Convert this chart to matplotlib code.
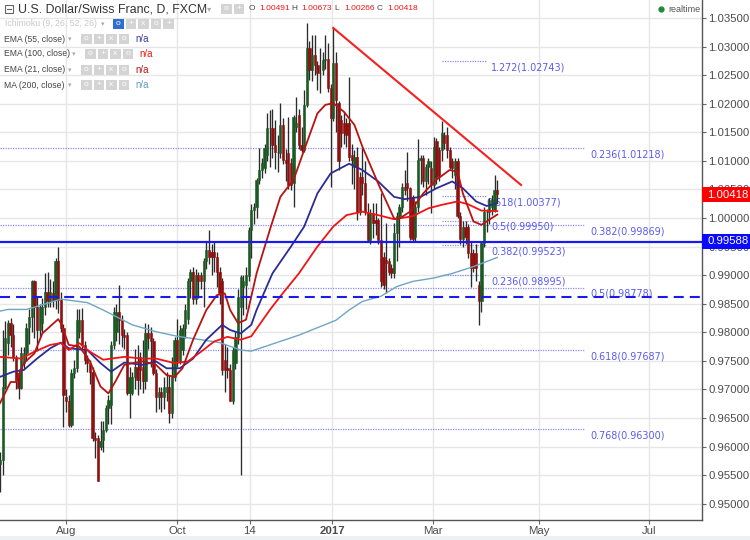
import matplotlib
matplotlib.use("Agg")
import matplotlib.pyplot as plt
from matplotlib.patches import Rectangle

# --- data ---
opens = [.9570,.9577,.9705,.9781,.9816,.9795,.9757,.9728,.9702,.9746,.9763,.9810,.9827,.9889,.9845,.9804,.9816,.9845,.9871,.9854,
 .9868,.9857,.9924,.9857,.9807,.9687,.9679,.9638,.9728,.9737,.9800,.9822,.9778,.9752,.9746,.9731,.9615,.9615,.9600,.9612,
 .9629,.9667,.9673,.9778,.9800,.9836,.9822,.9795,.9795,.9693,.9693,.9722,.9740,.9757,.9740,.9714,.9798,.9798,.9784,.9728,
 .9687,.9696,.9687,.9695,.9705,.9658,.9722,.9787,.9749,.9769,.9807,.9824,.9889,.9906,.9859,.9900,.9900,.9889,.9924,.9944,
 .9941,.9941,.9932,.9906,.9889,.9752,.9737,.9734,.9679,.9746,.9792,.9845,.9880,.9883,.9898,.9979,1.0014,1.0020,1.0067,1.0084,
 1.0087,1.0110,1.0157,1.0157,1.0128,1.0116,1.0113,1.0163,1.0102,1.0113,1.0096,1.0061,1.0160,1.0180,1.0128,1.0119,1.0198,1.0297,1.0259,1.0285,
 1.0268,1.0253,1.0259,1.0277,1.0279,1.0227,1.0175,1.0271,1.0201,1.0172,1.0166,1.0166,1.0166,1.0110,1.0090,1.0107,1.0072,1.0072,1.0061,1.0008,
 .9962,1.0008,.9997,.9997,.9962,.9932,.9927,.9924,.9912,.9903,.9973,1.0003,1.0020,1.0055,1.0061,1.0052,1.0037,.9967,1.0020,1.0102,
 1.0105,1.0064,1.0090,1.0087,1.0058,1.0134,1.0119,1.0119,1.0145,1.0145,1.0119,1.0099,1.0075,1.0099,1.0003,.9964,.9985,.9985,.9938,.9938,
 .9938,.9883,.9854,.9956,1.0011,1.0011,1.0020,1.0014,1.00491]
closes = [.9577,.9705,.9790,.9816,.9795,.9757,.9717,.9702,.9763,.9763,.9807,.9827,.9889,.9845,.9804,.9845,.9845,.9871,.9854,.9871,
 .9857,.9924,.9857,.9807,.9690,.9679,.9638,.9728,.9737,.9822,.9822,.9778,.9752,.9746,.9731,.9615,.9612,.9539,.9609,.9629,
 .9667,.9682,.9778,.9836,.9836,.9822,.9795,.9792,.9693,.9722,.9722,.9740,.9717,.9734,.9714,.9798,.9790,.9784,.9728,.9687,
 .9696,.9687,.9705,.9705,.9658,.9722,.9787,.9749,.9804,.9807,.9839,.9889,.9906,.9859,.9900,.9889,.9889,.9924,.9944,.9932,
 .9932,.9932,.9906,.9868,.9734,.9734,.9734,.9679,.9769,.9792,.9862,.9897,.9890,.9900,.9979,1.0014,1.0020,1.0067,1.0084,1.0096,
 1.0122,1.0157,1.0157,1.0128,1.0116,1.0116,1.0163,1.0102,1.0096,1.0058,1.0058,1.0177,1.0166,1.0128,1.0119,1.0198,1.0297,1.0259,1.0285,1.0268,
 1.0253,1.0253,1.0277,1.0279,1.0227,1.0175,1.0271,1.0207,1.0099,1.0148,1.0148,1.0145,1.0107,1.0102,1.0107,1.0011,1.0011,1.0061,1.0011,.9962,
 1.0008,.9991,.9991,.9962,.9889,.9883,.9921,.9906,.9903,.9973,1.0003,1.0020,1.0055,1.0049,1.0052,.9967,.9964,1.0020,1.0102,1.0105,
 1.0064,1.0090,1.0099,1.0058,1.0125,1.0072,1.0075,1.0148,1.0131,1.0119,1.0090,1.0088,1.0099,1.0003,.9964,.9985,.9967,.9938,.9912,.9912,
 .9912,.9854,.9956,1.0011,1.0011,1.0032,1.0032,1.0049,1.00418]
highs = [.9590,.9804,.9820,.9822,.9825,.9815,.9760,.9735,.9775,.9775,.9816,.9840,.9892,.9892,.9862,.9850,.9860,.9903,.9906,.9894,
 .9890,.9930,.9950,.9870,.9815,.9700,.9690,.9735,.9752,.9840,.9840,.9842,.9785,.9760,.9752,.9740,.9625,.9620,.9645,.9645,
 .9672,.9690,.9785,.9845,.9850,.9883,.9830,.9805,.9800,.9740,.9730,.9770,.9778,.9765,.9786,.9816,.9815,.9810,.9790,.9735,
 .9705,.9705,.9722,.9730,.9725,.9757,.9792,.9824,.9812,.9815,.9850,.9895,.9910,.9915,.9910,.9905,.9905,.9930,.9960,.9979,
 .9955,.9960,.9940,.9915,.9895,.9780,.9775,.9745,.9775,.9800,.9875,.9900,.9900,.9915,.9985,1.0025,1.0026,1.0070,1.0122,1.0105,
 1.0130,1.0183,1.0189,1.0190,1.0172,1.0145,1.0201,1.0175,1.0120,1.0177,1.0105,1.0180,1.0212,1.0190,1.0160,1.0224,1.0342,1.0309,1.0320,1.0320,
 1.0275,1.0297,1.0290,1.0320,1.0306,1.0235,1.0335,1.0291,1.0205,1.0180,1.0185,1.0175,1.0247,1.0130,1.0119,1.0125,1.0080,1.0122,1.0100,1.0026,
 1.0015,1.0026,1.0026,1.0000,1.0043,.9940,.9991,.9930,.9920,.9991,1.0010,1.0025,1.0061,1.0084,1.0116,1.0055,1.0040,1.0030,1.0139,1.0110,
 1.0110,1.0095,1.0105,1.0100,1.0142,1.0140,1.0125,1.0169,1.0150,1.0160,1.0125,1.0105,1.0105,1.0105,1.0010,.9995,.9995,.9990,.9960,.9945,
 .9955,.9890,.9960,1.0020,1.0015,1.0035,1.0040,1.0075,1.00673]
lows = [.9520,.9550,.9700,.9760,.9775,.9750,.9700,.9684,.9700,.9735,.9750,.9780,.9800,.9790,.9768,.9790,.9800,.9830,.9845,.9845,
 .9845,.9840,.9833,.9800,.9635,.9660,.9635,.9635,.9720,.9730,.9790,.9770,.9745,.9730,.9710,.9610,.9580,.9539,.9594,.9590,
 .9625,.9640,.9640,.9770,.9785,.9780,.9775,.9770,.9690,.9650,.9690,.9700,.9690,.9700,.9693,.9700,.9770,.9740,.9725,.9661,
 .9665,.9661,.9665,.9680,.9641,.9650,.9715,.9740,.9745,.9760,.9790,.9815,.9860,.9850,.9850,.9860,.9875,.9845,.9910,.9920,
 .9900,.9905,.9880,.9850,.9725,.9695,.9720,.9679,.9675,.9735,.9780,.9550,.9830,.9840,.9890,.9930,.9990,1.0000,1.0060,1.0070,
 1.0078,1.0100,1.0090,1.0105,1.0085,1.0080,1.0105,1.0095,1.0065,1.0050,1.0049,1.0020,1.0150,1.0120,1.0115,1.0115,1.0195,1.0242,1.0240,1.0250,
 1.0224,1.0218,1.0250,1.0260,1.0220,1.0055,1.0170,1.0150,1.0084,1.0125,1.0130,1.0125,1.0100,1.0060,1.0050,.9997,1.0005,1.0040,1.0005,.9960,
 .9955,.9965,.9970,.9955,.9880,.9875,.9868,.9900,.9895,.9895,.9925,.9950,1.0010,1.0040,1.0030,.9962,.9960,.9960,1.0010,1.0060,
 1.0055,1.0040,1.0060,1.0008,1.0050,1.0060,1.0065,1.0100,1.0120,1.0105,1.0085,1.0070,1.0050,1.0000,.9955,.9950,.9955,.9930,.9880,.9905,
 .9890,.9813,.9835,.9950,.9975,.9990,1.0005,1.0010,1.00266]

ema21_x = [0,4,6,9,13,16,22,23,26,30,34,38,41,44,47,50,54,59,63,66,69,73,78,82,85,87,90,93,94,97,102,106,111,115,120,123,126,130,134,137,143,149,151,155,160,165,170,173,175,179,182,185,188]
ema21_y = [.9676,.9713,.9713,.9746,.9763,.9798,.9823,.9816,.9778,.9775,.9749,.9705,.9693,.9717,.9743,.9746,.9749,.9743,.9725,.9722,.9737,.9787,.9839,.9865,.9868,.9839,.9816,.9822,.9842,.9903,.9979,1.0037,1.0067,1.0119,1.0183,1.0198,1.0201,1.0186,1.0163,1.0125,1.0060,.9999,.9999,1.0011,1.0043,1.0067,1.0084,1.0081,1.0043,.9994,.9988,.9997,1.0006]
ema100_x = [0,8,13,19,23,26,30,34,39,47,54,59,66,71,76,81,86,91,95,102,106,113,120,126,131,137,143,149,156,162,167,173,177,182,188]
ema100_y = [.9757,.9754,.9766,.9778,.9781,.9769,.9781,.9766,.9752,.9757,.9754,.9754,.9746,.9749,.9766,.9784,.9792,.9787,.9793,.9839,.9863,.9903,.9950,.9985,1.0005,1.0011,1.0005,.9998,1.0003,1.0017,1.0023,1.0029,1.0024,1.0013,1.0012]
ema55_x = [0,5,9,14,19,23,26,33,38,42,47,54,59,63,68,73,78,84,87,91,95,97,103,110,115,120,125,132,137,143,149,153,159,165,171,175,180,184,188]
ema55_y = [.9722,.9731,.9734,.9754,.9772,.9782,.9772,.9769,.9746,.9731,.9747,.9743,.9749,.9737,.9737,.9754,.9787,.9813,.9804,.9798,.9813,.9839,.9903,.9950,.9985,1.0043,1.0078,1.0095,1.0084,1.0064,1.0037,1.0033,1.0037,1.0052,1.0064,1.0052,1.0029,1.0021,1.0026]
ma200_x = [0,3,10,16,23,33,39,50,59,67,76,83,91,95,113,127,132,137,144,150,156,164,171,179,188]
ma200_y = [.9837,.9840,.9840,.9848,.9858,.9852,.9839,.9813,.9801,.9793,.9787,.9782,.9769,.9767,.9795,.9821,.9839,.9854,.9863,.9880,.9889,.9895,.9903,.9915,.9931]

long_fibs = [1.01218, 0.99869, 0.98778, 0.97687, 0.96300]
long_fib_labels = ["0.236(1.01218)", "0.382(0.99869)", "0.5(0.98778)", "0.618(0.97687)", "0.768(0.96300)"]
short_fibs = [1.02743, 1.00377, 0.99950, 0.99523, 0.98995]
short_fib_labels = ["1.272(1.02743)", "0.618(1.00377)", "0.5(0.99950)", "0.382(0.99523)", "0.236(0.98995)"]
support_solid = 0.99588
support_dashed = 0.98612
trend_x = [126, 197]
trend_y = [1.03325, 1.00578]
last_close = 1.00418

y_ticks = [0.95 + 0.005*i for i in range(18)]
x_tick_pos = [25, 66.9, 94.5, 125.5, 163.7, 203.8, 245.4]
x_tick_labels = ["Aug", "Oct", "14", "2017", "Mar", "May", "Jul"]

plt.rcParams['font.family'] = ['Liberation Sans', 'DejaVu Sans']
W, H = 750, 540
fig = plt.figure(figsize=(W/100, H/100), dpi=100, facecolor='white')
ax = fig.add_axes([0, 20/H, 702/W, 520/H])
ax.set_xlim(0, 702/2.645)
ax.set_ylim(1 + (218-520)*0.000175, 1 + 218*0.000175)
ax.set_yticks(y_ticks)
ax.set_yticklabels([f"{t:.5f}" for t in y_ticks])
ax.yaxis.tick_right()
ax.tick_params(axis='y', labelsize=8.2, labelcolor='#4c4c4c', color='#666666', length=3, width=0.8, pad=1.5)
ax.set_xticks(x_tick_pos)
ax.set_xticklabels(x_tick_labels)
ax.tick_params(axis='x', labelsize=8.2, labelcolor='#4c4c4c', color='#666666', length=3, width=0.8, pad=1.5)
ax.get_xticklabels()[3].set_fontweight('bold')
ax.grid(True, color='#e6e6e6', lw=1)
ax.set_axisbelow(True)
for s in ['top', 'left']:
    ax.spines[s].set_visible(False)
for s in ['right', 'bottom']:
    ax.spines[s].set_color('#555555')
    ax.spines[s].set_linewidth(1)

fib_c = '#5a5af0'
for v, lab in zip(long_fibs, long_fib_labels):
    ax.hlines(v, 0, 585/2.645, color='#8a8af5', lw=0.9, ls=(0, (1, 1)), zorder=1)
    ax.annotate(lab, (590/2.645, v), xytext=(0, -6), textcoords='offset pixels', color=fib_c,
                fontsize=6.9, family='DejaVu Sans', va='center', zorder=2)
for v, lab in zip(short_fibs, short_fib_labels):
    ax.hlines(v, 442/2.645, 486/2.645, color='#8a8af5', lw=0.9, ls=(0, (1, 1)), zorder=1)
    ax.annotate(lab, (491/2.645 if lab != "0.618(1.00377)" else 486/2.645, v), xytext=(0, -6), textcoords='offset pixels', color=fib_c,
                fontsize=6.9, family='DejaVu Sans', va='center', zorder=2)

idx = list(range(len(closes)))
ax.vlines(idx, lows, highs, color='#2b2b2b', lw=0.95, zorder=3)
up = ['#1c5a24' if c >= o else '#8e1010' for o, c in zip(opens, closes)]
ax.bar(idx, [c-o for o, c in zip(opens, closes)], bottom=opens, width=0.85, color=up,
       edgecolor=up, linewidth=0.4, zorder=4)

ax.plot(ma200_x, ma200_y, color='#6fa5c4', lw=1.0, zorder=5)
ax.plot(ema55_x, ema55_y, color='#2b2b96', lw=1.3, zorder=5)
ax.plot(ema100_x, ema100_y, color='#f01414', lw=1.3, zorder=5)
ax.plot(ema21_x, ema21_y, color='#b81212', lw=1.3, zorder=5)
ax.axhline(support_solid, color='#1a1aee', lw=1.6, zorder=6)
ax.axhline(support_dashed, color='#1a1aee', lw=1.5, ls=(0, (4.8, 2.9)), zorder=6)
ax.plot(trend_x, trend_y, color='#f52020', lw=1.5, zorder=6)

# overlay in pixel coordinates for the chart chrome
ov = fig.add_axes([0, 0, 1, 1], facecolor='none')
ov.set_xlim(0, W); ov.set_ylim(H, 0); ov.axis('off')

def tag(y, txt, col):
    ov.add_patch(Rectangle((702, y-7.5), 48, 15, color=col, lw=0, zorder=3))
    ov.text(707, y, txt, color='white', fontsize=8.2, va='center', zorder=4)
tag(194.5, "1.00418", '#ff0000')
tag(241.5, "0.99588", '#0a0aff')

ov.add_patch(Rectangle((0, 536), 750, 4, color='#eef1f3', lw=0))
ov.add_patch(Rectangle((4.5, 4.5), 8, 8, fill=False, ec='#666666', lw=0.8))
ov.plot([6.5, 11], [8.5, 8.5], color='#666666', lw=0.8)
ov.text(18, 9.5, "U.S. Dollar/Swiss Franc, D, FXCM", fontsize=8.9, color='#333333', va='center')
ov.text(207, 9, "▾", fontsize=6, color='#aaaaaa', va='center', family='DejaVu Sans')

def btns(x0, y, n, first_blue=False):
    for i in range(n):
        c = '#2f6fd0' if first_blue and i == 0 else '#d4d4d4'
        ov.add_patch(Rectangle((x0 + i*12.6, y-5), 10.5, 10, color=c, lw=0))
        ov.text(x0 + i*12.6 + 5.2, y-0.3, "o+x"[i % 3] if i else "o", color='white', fontsize=6,
                ha='center', va='center')

btns(221, 9, 2)
rows = [("EMA (55, close)", 39, 81, '#3a3aa0'), ("EMA (100, close)", 54, 85, '#f01414'),
        ("EMA (21, close)", 70, 81, '#b81212'), ("MA (200, close)", 85, 81, '#5f9cc0')]
ov.text(5, 24, "Ichimoku (9, 26, 52, 26)", fontsize=6.3, color='#c8c8c8', va='center')
ov.text(101, 24, "▾", fontsize=5, color='#aaaaaa', va='center', family='DejaVu Sans')
btns(113, 24, 5, first_blue=True)
for lab, y, bx, col in rows:
    ov.text(4, y, lab, fontsize=6.2, color='#444444', va='center')
    ov.text(bx-13, y, "▾", fontsize=5, color='#aaaaaa', va='center', family='DejaVu Sans')
    btns(bx, y, 4)
    ov.text(bx+54, y, "n/a", fontsize=7, color=col, va='center')

ox = 249
for lab, val in [("O", "1.00491"), ("H", "1.00673"), ("L", "1.00266"), ("C", "1.00418")]:
    ov.text(ox, 9, lab, fontsize=6, color='#444444', va='center')
    ov.text(ox+10, 9, val, fontsize=6, color='#f01414', va='center')
    ox += 42.7
ov.plot([661], [9], 'o', color='#1f8a3a', ms=3.5)
ov.text(668, 9, "realtime", fontsize=6.5, color='#555555', va='center')

fig.savefig("out.png", dpi=100)
